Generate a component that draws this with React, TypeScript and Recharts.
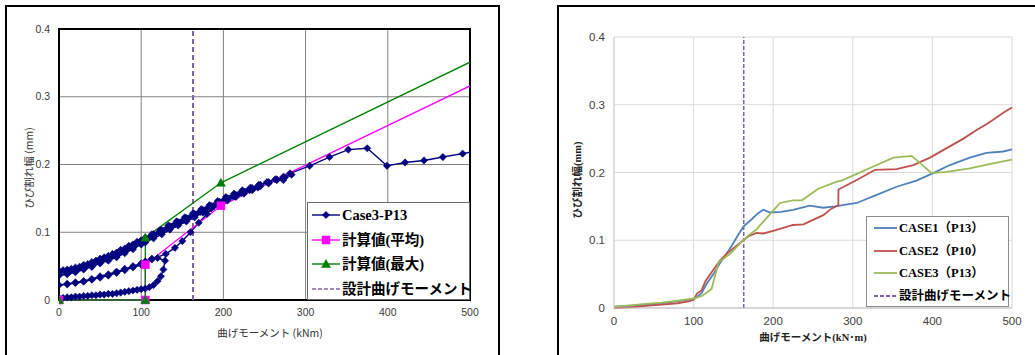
import React from 'react';
import {
  LineChart,
  Line,
  XAxis,
  YAxis,
  CartesianGrid,
  ReferenceLine,
  ReferenceArea,
  Legend,
} from 'recharts';

// ---- shared axes ----
const X_TICKS = [0, 100, 200, 300, 400, 500];
const Y_TICKS = [0, 0.1, 0.2, 0.3, 0.4];
const Y_TICK_LABELS = ['0', '0.1', '0.2', '0.3', '0.4'];
const DESIGN_MOMENT = 163;

// ---- left chart: Case3-P13 measured (cyclic loading) ----
const case3P13: [number, number][] = [
  // first loading
  [0, 0.003], [5, 0.003], [10, 0.004], [15, 0.004], [20, 0.005], [25, 0.005], [30, 0.006], [35, 0.006],
  [40, 0.007], [45, 0.007], [50, 0.008], [55, 0.008], [60, 0.009], [65, 0.009], [70, 0.010], [75, 0.011],
  [80, 0.012], [85, 0.013], [90, 0.014], [95, 0.015], [100, 0.016], [105, 0.017], [110, 0.019], [115, 0.022],
  [120, 0.028], [124, 0.035], [127, 0.045], [129, 0.058],
  // unloading
  [120, 0.062], [113, 0.061], [105, 0.057], [100, 0.054], [90, 0.050], [80, 0.046], [70, 0.042], [60, 0.038],
  [50, 0.035], [40, 0.031], [30, 0.028], [20, 0.026], [10, 0.024], [0, 0.022],
  // reloading
  [10, 0.023], [20, 0.025], [30, 0.027], [40, 0.030], [50, 0.033], [60, 0.036], [70, 0.040], [80, 0.044],
  [90, 0.048], [100, 0.052], [105, 0.055], [113, 0.060], [130, 0.068], [141, 0.077], [150, 0.087],
  [160, 0.100], [170, 0.114], [180, 0.127], [188, 0.138], [196, 0.143],
  // unloading
  [185, 0.137], [175, 0.131], [165, 0.125], [155, 0.118], [145, 0.112], [135, 0.106], [125, 0.100],
  [115, 0.093], [105, 0.086], [100, 0.083], [90, 0.077], [80, 0.071], [70, 0.065], [60, 0.060], [50, 0.055],
  [40, 0.050], [30, 0.046], [20, 0.042], [10, 0.039], [0, 0.036],
  // reloading
  [10, 0.038], [20, 0.041], [30, 0.045], [40, 0.049], [50, 0.054], [60, 0.058], [70, 0.063], [80, 0.069],
  [90, 0.075], [100, 0.082], [105, 0.085], [115, 0.091], [125, 0.097], [135, 0.104], [145, 0.110],
  [155, 0.116], [165, 0.122], [175, 0.129], [185, 0.135], [195, 0.141], [205, 0.147], [215, 0.152],
  [225, 0.157], [235, 0.162], [242, 0.166],
  // unloading
  [232, 0.162], [222, 0.158], [212, 0.153], [202, 0.148], [192, 0.142], [182, 0.136], [172, 0.130],
  [162, 0.124], [152, 0.118], [142, 0.112], [132, 0.106], [122, 0.100], [112, 0.094], [105, 0.090],
  [100, 0.087], [90, 0.080], [80, 0.074], [70, 0.068], [60, 0.063], [50, 0.058], [40, 0.053], [30, 0.049],
  [20, 0.045], [10, 0.042], [0, 0.040],
  // reloading
  [10, 0.042], [20, 0.045], [30, 0.049], [40, 0.053], [50, 0.058], [60, 0.062], [70, 0.067], [80, 0.073],
  [90, 0.079], [100, 0.085], [105, 0.088], [115, 0.094], [125, 0.100], [135, 0.106], [145, 0.112],
  [155, 0.118], [165, 0.124], [175, 0.130], [185, 0.136], [195, 0.142], [205, 0.148], [215, 0.153],
  [225, 0.158], [235, 0.163], [245, 0.168], [255, 0.172], [265, 0.177], [275, 0.181], [283, 0.185],
  // unloading
  [273, 0.182], [263, 0.178], [253, 0.174], [243, 0.170], [233, 0.166], [223, 0.162], [213, 0.157],
  [203, 0.152], [193, 0.146], [183, 0.140], [173, 0.134], [163, 0.128], [153, 0.122], [143, 0.116],
  [133, 0.110], [123, 0.103], [113, 0.097], [105, 0.092], [95, 0.086], [85, 0.080], [75, 0.074],
  [65, 0.068], [55, 0.063], [45, 0.058], [35, 0.053], [25, 0.049], [15, 0.046], [5, 0.044], [0, 0.043],
  // final loading
  [10, 0.045], [20, 0.048], [30, 0.052], [40, 0.056], [50, 0.061], [60, 0.065], [70, 0.070], [80, 0.076],
  [90, 0.082], [100, 0.088], [105, 0.091], [115, 0.097], [125, 0.103], [135, 0.109], [145, 0.115],
  [155, 0.121], [165, 0.127], [175, 0.133], [185, 0.139], [195, 0.145], [205, 0.150], [215, 0.155],
  [225, 0.160], [235, 0.165], [245, 0.170], [255, 0.174], [265, 0.178], [273, 0.177], [281, 0.187],
  [305, 0.198], [329, 0.211], [352, 0.222], [375, 0.224], [399, 0.198], [421, 0.203], [444, 0.206],
  [467, 0.211], [491, 0.216], [500, 0.218],
];

// calculated crack width (mean / max)
const calcMean: [number, number][] = [[0, 0], [105, 0], [105, 0.052], [197, 0.139], [500, 0.316]];
const calcMax: [number, number][] = [[0, 0], [105, 0], [105, 0.092], [197, 0.173], [500, 0.351]];

// ---- right chart: three cases ----
const case1: [number, number][] = [
  [0, 0.002], [20, 0.003], [40, 0.005], [60, 0.007], [80, 0.010], [100, 0.013], [104, 0.016], [110, 0.022],
  [116, 0.035], [126, 0.052], [133, 0.066], [140, 0.078], [148, 0.092], [155, 0.106], [162.5, 0.120],
  [173, 0.131], [181, 0.140], [187.6, 0.145], [196, 0.141], [210, 0.142], [225, 0.145], [246, 0.151],
  [263, 0.148], [277.6, 0.150], [305, 0.155], [330, 0.167], [355, 0.179], [380, 0.188], [401, 0.199],
  [422, 0.211], [447, 0.222], [468, 0.229], [489, 0.231], [500, 0.234],
];
const case2: [number, number][] = [
  [0, 0], [20, 0.001], [40, 0.003], [60, 0.005], [80, 0.007], [95, 0.010], [100, 0.012], [104, 0.021],
  [110, 0.026], [115, 0.040], [124, 0.055], [133, 0.070], [141.5, 0.080], [154, 0.092], [162.5, 0.100],
  [169, 0.106], [179, 0.111], [187.5, 0.110], [200, 0.114], [225, 0.1225], [238, 0.1235], [250, 0.130],
  [263, 0.137], [273.5, 0.147], [281.8, 0.1515], [282, 0.175], [305, 0.189], [328, 0.204], [355, 0.205],
  [376, 0.211], [397, 0.222], [418, 0.236], [439, 0.250], [456, 0.263], [469, 0.272], [490, 0.289],
  [500, 0.296],
];
const case3: [number, number][] = [
  [0, 0.002], [20, 0.004], [40, 0.006], [60, 0.008], [80, 0.011], [100, 0.014], [111, 0.018],
  [122.6, 0.028], [131, 0.066], [133, 0.069], [146, 0.080], [158, 0.095], [169, 0.107], [179, 0.116],
  [191, 0.132], [208.5, 0.155], [225, 0.159], [236, 0.159], [256.6, 0.176], [280, 0.1865], [286, 0.188],
  [305, 0.198], [330, 0.211], [351, 0.222], [374, 0.2245], [399, 0.199], [418, 0.201], [447, 0.206],
  [476, 0.2135], [500, 0.219],
];

const toRows = (pts: [number, number][]) => pts.map(([x, y]) => ({ x, y }));

// ---- colours ----
const NAVY = '#000080';
const MAGENTA = '#FF00FF';
const GREEN = '#008000';
const PURPLE_L = '#8064A2';
const BLUE = '#4F81BD';
const RED = '#C0504D';
const OLIVE = '#9BBB59';
const PURPLE_R = '#7F5FA8';

type MarkerKind = 'diamond' | 'square' | 'triangle';

function markerShape(kind: MarkerKind, cx: number, cy: number, color: string, key?: string) {
  if (kind === 'diamond') {
    const r = 3.6;
    return (
      <path key={key} d={`M${cx},${cy - r}L${cx + r},${cy}L${cx},${cy + r}L${cx - r},${cy}Z`} fill={color} stroke={color} strokeWidth={0.6} />
    );
  }
  if (kind === 'square') {
    return <rect key={key} x={cx - 4} y={cy - 4} width={8} height={8} fill={color} stroke={color} strokeWidth={0.5} />;
  }
  return (
    <path key={key} d={`M${cx},${cy - 4.5}L${cx + 4.5},${cy + 3.5}L${cx - 4.5},${cy + 3.5}Z`} fill={color} stroke={color} strokeWidth={0.5} />
  );
}

// dots drawn at every data point except the one sitting on the right plot edge
const makeDot = (kind: MarkerKind, color: string) => (props: any) => {
  const { cx, cy, index, payload } = props;
  if (cx == null || cy == null || (payload && payload.x >= 500)) {
    return <g key={`e-${index}`} />;
  }
  return markerShape(kind, cx, cy, color, `m-${index}`);
};

const tickTextLeft = { fontSize: 10.5, fill: '#3a3a3a', fontFamily: '"Liberation Sans", Arial, sans-serif' };
const tickTextRight = { fontSize: 11.5, fill: '#404040', fontFamily: '"Liberation Sans", Arial, sans-serif' };

const legendFont = '"Liberation Serif", "Noto Sans CJK JP", serif';

type LegendRow = { name: string; color: string; marker?: MarkerKind; dashed?: boolean };

const leftLegendRows: LegendRow[] = [
  { name: 'Case3-P13', color: NAVY, marker: 'diamond' },
  { name: '計算値(平均)', color: MAGENTA, marker: 'square' },
  { name: '計算値(最大)', color: GREEN, marker: 'triangle' },
  { name: '設計曲げモーメント', color: PURPLE_L, dashed: true },
];

const rightLegendRows: LegendRow[] = [
  { name: 'CASE1（P13）', color: BLUE },
  { name: 'CASE2（P10）', color: RED },
  { name: 'CASE3（P13）', color: OLIVE },
  { name: '設計曲げモーメント', color: PURPLE_R, dashed: true },
];

function LegendBox({
  rows,
  rowHeight,
  iconLeft,
  iconWidth,
  fontSize,
  border,
  strokeWidth,
}: {
  rows: LegendRow[];
  rowHeight: number;
  iconLeft: number;
  iconWidth: number;
  fontSize: number;
  border: string;
  strokeWidth: number;
}) {
  return (
    <div
      style={{
        width: '100%',
        height: '100%',
        boxSizing: 'border-box',
        background: '#fff',
        border,
      }}
    >
      {rows.map((r) => (
        <div key={r.name} style={{ height: rowHeight, display: 'flex', alignItems: 'center', paddingLeft: iconLeft - 1 }}>
          <svg width={iconWidth} height={12} style={{ flex: 'none' }}>
            <line
              x1={0}
              y1={6}
              x2={iconWidth}
              y2={6}
              stroke={r.color}
              strokeWidth={r.dashed ? strokeWidth + 0.3 : strokeWidth}
              strokeDasharray={r.dashed ? '4 2' : undefined}
            />
            {r.marker ? markerShape(r.marker, iconWidth / 2, 6, r.color) : null}
          </svg>
          <span
            style={{
              marginLeft: 2,
              fontFamily: legendFont,
              fontWeight: 'bold',
              fontSize,
              color: '#000',
              whiteSpace: 'nowrap',
              lineHeight: 1,
            }}
          >
            {r.name}
          </span>
        </div>
      ))}
    </div>
  );
}

function LeftChart() {
  return (
    <LineChart width={500} height={355} margin={{ top: 29, right: 30, bottom: 25, left: 9 }}>
      <CartesianGrid stroke="#808080" strokeWidth={1} />
      <XAxis
        dataKey="x"
        type="number"
        domain={[0, 500]}
        ticks={X_TICKS}
        allowDataOverflow
        height={30}
        axisLine={false}
        tickLine={false}
        tickSize={6}
        tickMargin={3}
        tick={tickTextLeft}
      />
      <YAxis
        dataKey="y"
        type="number"
        domain={[0, 0.4]}
        ticks={Y_TICKS}
        tickFormatter={(v: number) => Y_TICK_LABELS[Y_TICKS.indexOf(v)] ?? String(v)}
        width={50}
        axisLine={false}
        tickLine={false}
        tickSize={6}
        tickMargin={3}
        tick={tickTextLeft}
      />
      <ReferenceArea x1={0} x2={500} y1={0} y2={0.4} fill="none" stroke="#000" strokeWidth={2} />
      <ReferenceLine x={DESIGN_MOMENT} stroke={PURPLE_L} strokeWidth={2} strokeDasharray="5 3" />
      <Line
        data={toRows(case3P13)}
        dataKey="y"
        name="Case3-P13"
        stroke={NAVY}
        strokeWidth={1.4}
        dot={makeDot('diamond', NAVY)}
        activeDot={false}
        isAnimationActive={false}
      />
      <Line
        data={toRows(calcMean)}
        dataKey="y"
        name="計算値(平均)"
        stroke={MAGENTA}
        strokeWidth={1.3}
        dot={makeDot('square', MAGENTA)}
        activeDot={false}
        isAnimationActive={false}
      />
      <Line
        data={toRows(calcMax)}
        dataKey="y"
        name="計算値(最大)"
        stroke={GREEN}
        strokeWidth={1.3}
        dot={makeDot('triangle', GREEN)}
        activeDot={false}
        isAnimationActive={false}
      />
      <Legend
        layout="vertical"
        align="center"
        verticalAlign="middle"
        wrapperStyle={{ left: 307, top: 202, width: 163, height: 98 }}
        content={() => (
          <LegendBox
            rows={leftLegendRows}
            rowHeight={24.5}
            iconLeft={5}
            iconWidth={28}
            fontSize={14.5}
            border="1px solid #6a6a6a"
            strokeWidth={1.4}
          />
        )}
      />
    </LineChart>
  );
}

function RightChart() {
  return (
    <LineChart width={505} height={355} margin={{ top: 37, right: 23, bottom: 17, left: 34 }}>
      <CartesianGrid stroke="#d9d9d9" strokeWidth={1} />
      <XAxis
        dataKey="x"
        type="number"
        domain={[0, 500]}
        ticks={X_TICKS}
        height={30}
        axisLine={{ stroke: '#bfbfbf' }}
        tickLine={false}
        tickSize={6}
        tickMargin={3}
        tick={tickTextRight}
      />
      <YAxis
        dataKey="y"
        type="number"
        domain={[0, 0.4]}
        ticks={Y_TICKS}
        tickFormatter={(v: number) => Y_TICK_LABELS[Y_TICKS.indexOf(v)] ?? String(v)}
        width={50}
        axisLine={{ stroke: '#d0d0d0' }}
        tickLine={false}
        tickSize={6}
        tickMargin={3}
        tick={tickTextRight}
      />
      <ReferenceLine x={DESIGN_MOMENT} stroke={PURPLE_R} strokeWidth={1.5} strokeDasharray="4 2" />
      <Line data={toRows(case1)} dataKey="y" name="CASE1（P13）" stroke={BLUE} strokeWidth={1.8} dot={false} activeDot={false} isAnimationActive={false} />
      <Line data={toRows(case2)} dataKey="y" name="CASE2（P10）" stroke={RED} strokeWidth={1.8} dot={false} activeDot={false} isAnimationActive={false} />
      <Line data={toRows(case3)} dataKey="y" name="CASE3（P13）" stroke={OLIVE} strokeWidth={1.8} dot={false} activeDot={false} isAnimationActive={false} />
      <Legend
        layout="vertical"
        align="center"
        verticalAlign="middle"
        wrapperStyle={{ left: 336, top: 216, width: 143, height: 91 }}
        content={() => (
          <LegendBox
            rows={rightLegendRows}
            rowHeight={22.5}
            iconLeft={8}
            iconWidth={23}
            fontSize={12.5}
            border="1px solid #8c8c8c"
            strokeWidth={1.8}
          />
        )}
      />
    </LineChart>
  );
}

const cjk = '"Noto Sans CJK JP", sans-serif';

function AxisTitle({
  text,
  cx,
  cy,
  rotate,
  style,
}: {
  text: string;
  cx: number;
  cy: number;
  rotate?: boolean;
  style: React.CSSProperties;
}) {
  const w = 160;
  const h = 16;
  return (
    <div
      style={{
        position: 'absolute',
        left: cx - w / 2,
        top: cy - h / 2,
        width: w,
        height: h,
        lineHeight: `${h}px`,
        textAlign: 'center',
        whiteSpace: 'nowrap',
        transform: rotate ? 'rotate(-90deg)' : undefined,
        transformOrigin: 'center',
        ...style,
      }}
    >
      {text}
    </div>
  );
}

export default function App() {
  const leftTitle: React.CSSProperties = { fontFamily: cjk, fontSize: 10.5, color: '#333' };
  const rightTitle: React.CSSProperties = {
    fontFamily: '"Liberation Serif", "Noto Sans CJK JP", serif',
    fontWeight: 'bold',
    fontSize: 10.5,
    color: '#222',
  };
  return (
    <div
      style={{
        position: 'absolute',
        left: 0,
        top: 0,
        width: 1035,
        height: 355,
        overflow: 'hidden',
        background: '#fff',
      }}
    >
      {/* outer frames of the two panels */}
      <div style={{ position: 'absolute', left: 5, top: 5, width: 491, height: 360, border: '2px solid #000' }} />
      <div style={{ position: 'absolute', left: 557, top: 5, width: 520, height: 360, border: '2px solid #000' }} />

      <div style={{ position: 'absolute', left: 0, top: 0 }}>
        <LeftChart />
      </div>
      <div style={{ position: 'absolute', left: 530, top: 0 }}>
        <RightChart />
      </div>

      <AxisTitle text="曲げモーメント (kNm)" cx={270} cy={333} style={leftTitle} />
      <AxisTitle text="ひび割れ幅 (mm)" cx={29} cy={168} rotate style={leftTitle} />
      <AxisTitle text="曲げモーメント(kN･m)" cx={813} cy={338} style={rightTitle} />
      <AxisTitle text="ひび割れ幅(mm)" cx={578} cy={180} rotate style={rightTitle} />
    </div>
  );
}
